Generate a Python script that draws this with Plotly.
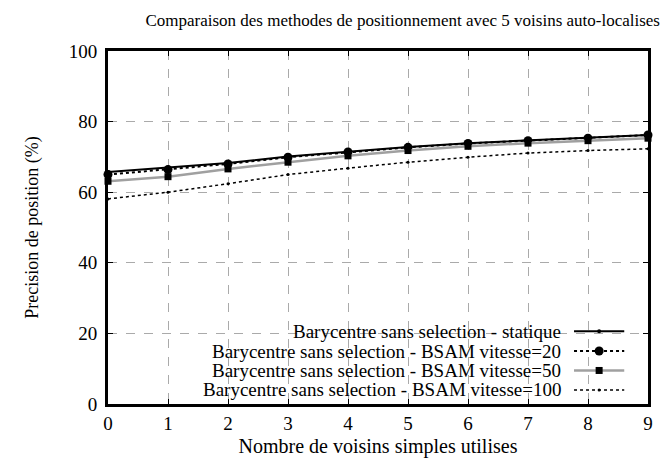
import plotly.graph_objects as go

x_vals = [0, 1, 2, 3, 4, 5, 6, 7, 8, 9]
statique = [65.7, 67.0, 68.3, 70.1, 71.5, 72.8, 73.9, 74.7, 75.5, 76.2]
bsam20 = [65.0, 66.4, 68.0, 69.9, 71.4, 72.7, 73.8, 74.6, 75.3, 76.2]
bsam50 = [63.1, 64.4, 66.6, 68.5, 70.3, 71.8, 73.0, 73.9, 74.6, 75.3]
bsam100 = [58.1, 60.0, 62.4, 65.0, 66.8, 68.5, 69.9, 71.1, 71.8, 72.3]
names = [
    "Barycentre sans selection - statique",
    "Barycentre sans selection - BSAM vitesse=20",
    "Barycentre sans selection - BSAM vitesse=50",
    "Barycentre sans selection - BSAM vitesse=100",
]
x_ticks = [0, 1, 2, 3, 4, 5, 6, 7, 8, 9]
y_ticks = [0, 20, 40, 60, 80, 100]

FONT = "Liberation Serif, Times New Roman, serif"
F_TICK = dict(family=FONT, size=19, color="black")
F_AXT = dict(family=FONT, size=20, color="black")

styles = [
    dict(line=dict(color="black", width=2, dash="solid"), marker=dict(symbol="circle", size=4, color="black")),
    dict(line=dict(color="black", width=2, dash="dot"), marker=dict(symbol="circle", size=9, color="black")),
    dict(line=dict(color="#a0a0a0", width=2.5, dash="solid"), marker=dict(symbol="square", size=7, color="black")),
    dict(line=dict(color="black", width=1.5, dash="dot"), marker=dict(symbol="circle", size=3, color="black")),
]
series = [statique, bsam20, bsam50, bsam100]

fig = go.Figure()
for name, ys, st in zip(names, series, styles):
    fig.add_trace(go.Scatter(x=x_vals, y=ys, mode="lines+markers", name=name,
                             line=st["line"], marker=st["marker"],
                             cliponaxis=False, showlegend=False))

# custom legend (text right-aligned, sample on the right)
row_y = [0.206, 0.150, 0.095, 0.040]
shapes = []
annotations = []
for name, yy, st in zip(names, row_y, styles):
    annotations.append(dict(x=0.8426, y=yy, xref="paper", yref="paper", text=name,
                            showarrow=False, xanchor="right", yanchor="middle",
                            font=dict(family=FONT, size=19, color="black")))
    shapes.append(dict(type="line", xref="paper", yref="paper", x0=0.863, x1=0.956,
                       y0=yy, y1=yy, line=st["line"]))
    ms = st["marker"]["size"]
    dx = ms / 2 / 540
    dy = ms / 2 / 353
    shapes.append(dict(type="circle" if st["marker"]["symbol"] == "circle" else "rect",
                       xref="paper", yref="paper", x0=0.9095 - dx, x1=0.9095 + dx,
                       y0=yy - dy, y1=yy + dy, fillcolor="black", line=dict(width=0)))

fig.update_layout(
    width=668, height=459,
    margin=dict(l=100, r=28, t=43, b=63),
    paper_bgcolor="white", plot_bgcolor="white",
    font=dict(family=FONT, size=19, color="black"),
    title=dict(text="Comparaison des methodes de positionnement avec 5 voisins auto-localises",
               x=652 / 668, xref="container", xanchor="right", y=1 - 12 / 459, yref="container",
               yanchor="middle", font=dict(family=FONT, size=17, color="black")),
    shapes=shapes, annotations=annotations,
)
fig.update_xaxes(range=[0, 9], tickvals=x_ticks, ticks="inside", ticklen=5, tickcolor="black",
                 showline=True, linecolor="black", linewidth=3, mirror="allticks",
                 showgrid=True, gridcolor="#aaaaaa", griddash="dash", gridwidth=1,
                 zeroline=False, tickfont=F_TICK,
                 title=dict(text="Nombre de voisins simples utilises", standoff=7, font=F_AXT))
fig.update_yaxes(range=[0, 100], tickvals=y_ticks, ticks="inside", ticklen=5, tickcolor="black",
                 showline=True, linecolor="black", linewidth=3, mirror="allticks",
                 showgrid=True, gridcolor="#aaaaaa", griddash="dash", gridwidth=1,
                 zeroline=False, tickfont=F_TICK, ticklabelstandoff=4,
                 title=dict(text="Precision de position (%)", standoff=26, font=dict(family=FONT, size=18, color="black")))

fig.write_html("out.html")
